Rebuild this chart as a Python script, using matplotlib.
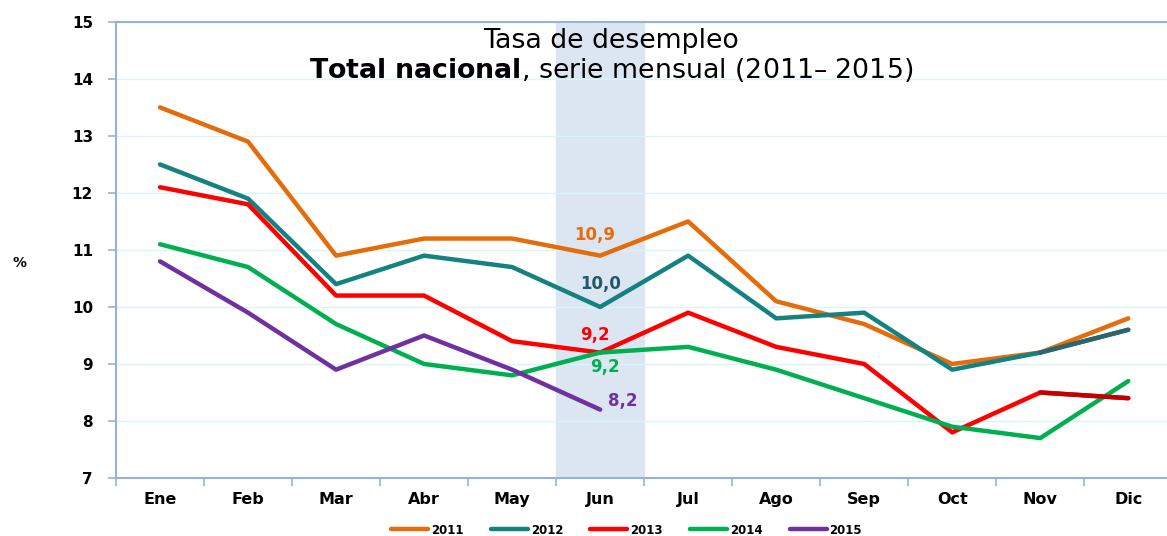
import numpy as np
import matplotlib.pyplot as plt
from matplotlib.ticker import FixedLocator

# Tasa de desempleo mensual, total nacional
meses = ['Ene', 'Feb', 'Mar', 'Abr', 'May', 'Jun', 'Jul', 'Ago', 'Sep', 'Oct', 'Nov', 'Dic']
t2011 = [13.5, 12.9, 10.9, 11.2, 11.2, 10.9, 11.5, 10.1, 9.7, 9.0, 9.2, 9.8]
t2012 = [12.5, 11.9, 10.4, 10.9, 10.7, 10.0, 10.9, 9.8, 9.9, 8.9, 9.2, 9.6]
t2013 = [12.1, 11.8, 10.2, 10.2, 9.4, 9.2, 9.9, 9.3, 9.0, 7.8, 8.5, 8.4]
t2014 = [11.1, 10.7, 9.7, 9.0, 8.8, 9.2, 9.3, 8.9, 8.4, 7.9, 7.7, 8.7]
t2015 = [10.8, 9.9, 8.9, 9.5, 8.9, 8.2]

series = [('2011', t2011, '#E46C0A'),
          ('2012', t2012, '#138280'),
          ('2013', t2013, '#FF0000'),
          ('2014', t2014, '#00B050'),
          ('2015', t2015, '#7030A0')]

fig = plt.figure(figsize=(11.67, 5.36), dpi=100)
ax = fig.add_axes([0.0994, 0.1082, 0.9006, 0.851])

x = np.arange(len(meses))

# banda sombreada del mes actual
ax.axvspan(4.5, 5.5, color='#DCE6F2', zorder=0)

for nombre, vals, col in series:
    ax.plot(x[:len(vals)], vals, color=col, lw=3.2, label=nombre,
            solid_capstyle='round', zorder=3)

# ultimo tramo de 2012 y 2013 en tono mas oscuro
ax.plot(x[10:12], t2012[10:12], color='#2E6470', lw=3.2, solid_capstyle='round', zorder=3)
ax.plot(x[10:12], t2013[10:12], color='#C00000', lw=3.2, solid_capstyle='round', zorder=3)

# etiquetas del mes de junio
j = 5
lab_kw = dict(textcoords='offset points', fontsize=12, fontweight='bold', ha='center', va='center')
ax.annotate('10,9', (j, t2011[j]), xytext=(-3.6, 15), color='#E46C0A', **lab_kw)
ax.annotate('10,0', (j, t2012[j]), xytext=(0, 16.5), color='#215968', **lab_kw)
ax.annotate('9,2', (j, t2013[j]), xytext=(-3.6, 12.7), color='#FF0000', **lab_kw)
ax.annotate('9,2', (j, t2014[j]), xytext=(3.6, -10.5), color='#00B050', **lab_kw)
ax.annotate('8,2', (j, t2015[j]), xytext=(16.5, 6.2), color='#7030A0', **lab_kw)

ax.set_xlim(-0.5, 11.44)
ax.set_ylim(7, 15)
ax.set_yticks(range(7, 16))
ax.set_xticks(x)
ax.set_xticklabels(meses, fontsize=11.5, fontweight='bold')
ax.xaxis.set_minor_locator(FixedLocator(np.arange(-0.5, 12, 1)))
ax.tick_params(axis='x', which='major', length=0, pad=10)
ax.tick_params(axis='x', which='minor', length=6, color='#95B3D7', width=1.2)
ax.tick_params(axis='y', length=6, color='#95B3D7', width=1.2, pad=10.6, labelsize=11)
for t in ax.get_yticklabels():
    t.set_fontweight('bold')

ax.grid(axis='y', color='#D8F5FA', lw=1)
ax.set_axisbelow(True)
for s in ['left', 'bottom', 'top']:
    ax.spines[s].set_color('#95B3D7')
    ax.spines[s].set_linewidth(1.5)
ax.spines['right'].set_visible(False)

fig.text(0.017, 0.51, '%', fontsize=10, fontweight='bold', ha='center', va='center')

fig.text(0.5236, 0.9104, 'Tasa de desempleo', fontsize=19.3, ha='center', va='baseline')
fig.text(0.5236, 0.8545, r'$\bf{Total\ nacional}$, serie mensual (2011' + '\u2013 2015)',
         fontsize=19.3, ha='center', va='baseline')

fig.legend(loc='center', bbox_to_anchor=(0.537, 0.011), ncol=5, frameon=False,
           handlelength=3.13, columnspacing=2.3, handletextpad=0.25,
           prop={'weight': 'bold', 'size': 8.5})

fig.savefig('out.png', dpi=100)
